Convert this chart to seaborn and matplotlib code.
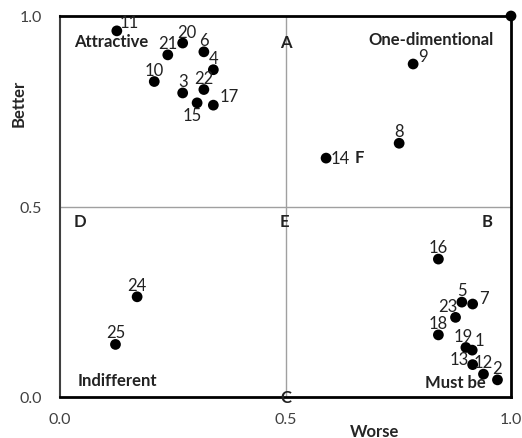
import matplotlib
matplotlib.use("Agg")
import matplotlib.pyplot as plt
import seaborn as sns
import pandas as pd

# ---- data ----
labels = ["11", "20", "21", "6", "4", "10", "3", "22", "15", "17",
          "9", "8", "14", "16", "5", "7", "23", "18", "19", "1",
          "13", "12", "2", "24", "25", ""]
worse = [0.126, 0.272, 0.239, 0.319, 0.340, 0.209, 0.272, 0.319, 0.304, 0.340,
         0.783, 0.752, 0.590, 0.839, 0.891, 0.915, 0.877, 0.839, 0.900, 0.914,
         0.915, 0.939, 0.970, 0.171, 0.123, 1.000]
better = [0.961, 0.929, 0.898, 0.906, 0.859, 0.828, 0.798, 0.807, 0.772, 0.766,
          0.874, 0.666, 0.627, 0.362, 0.249, 0.244, 0.209, 0.163, 0.130, 0.123,
          0.085, 0.060, 0.045, 0.263, 0.138, 1.000]

quadrant_names = ["Attractive", "One-dimentional", "Indifferent", "Must be"]
region_letters = ["A", "B", "C", "D", "E", "F"]
x_ticks = [0.0, 0.5, 1.0]
y_ticks = [0.0, 0.5, 1.0]

df = pd.DataFrame({"label": labels, "Worse": worse, "Better": better})

# label offsets in pixels (dx, dy), default: above the point
label_offsets = {
    "11": (12, 9), "17": (16, 9), "9": (10, 8), "7": (11, 6),
    "23": (-8, 11), "1": (7, 10), "13": (-13, 6), "15": (-5, -12),
    "19": (-3, 11), "20": (4, 11),
}

sns.set_style("white")
plt.rcParams["font.family"] = ["Lato", "DejaVu Sans"]

fig = plt.figure(figsize=(5.22, 4.39), dpi=100)
ax = fig.add_axes([60 / 522, 41 / 439, 451 / 522, 381 / 439])

sns.scatterplot(data=df, x="Worse", y="Better", color="black", s=60,
                edgecolor="none", ax=ax, zorder=3, clip_on=False)

ax.set_xlim(0, 1)
ax.set_ylim(0, 1)
ax.set_xticks(x_ticks)
ax.set_yticks(y_ticks)
ax.set_xticklabels([f"{v:.1f}" for v in x_ticks])
ax.set_yticklabels([f"{v:.1f}" for v in y_ticks])
ax.tick_params(axis="both", labelsize=11.5, colors="#595959", labelcolor="#404040",
               length=4, width=1, direction="out")
ax.tick_params(axis="x", pad=7)
ax.tick_params(axis="y", pad=9)

# quadrant lines
ax.axvline(0.5, color="#a0a0a0", lw=1, zorder=1)
ax.axhline(0.5, color="#a0a0a0", lw=1, zorder=1)

for side in ["left", "bottom", "top", "right"]:
    ax.spines[side].set_visible(True)
    ax.spines[side].set_color("black")
    ax.spines[side].set_linewidth(2)
ax.spines["left"].set_color("#404040")
ax.spines["left"].set_linewidth(1.5)

ax.set_xlabel("Worse", fontsize=12, fontweight="bold", va="center")
ax.set_ylabel("Better", fontsize=12, fontweight="bold", va="center")
ax.xaxis.set_label_coords((375 - 60) / 451, (398 - 432) / 381)
ax.yaxis.set_label_coords((19 - 60) / 451, (398 - 103) / 381)

# point labels
for lab, xv, yv in zip(labels, worse, better):
    if not lab:
        continue
    if lab == "14":
        ax.annotate("14", (xv, yv), xytext=(5, 0), textcoords="offset pixels",
                    ha="left", va="center", fontsize=12, color="#222222")
        continue
    dx, dy = label_offsets.get(lab, (0, 12))
    ax.annotate(lab, (xv, yv), xytext=(dx, dy), textcoords="offset pixels",
                ha="center", va="center", fontsize=12, color="#222222")

# quadrant names
bold = dict(fontsize=12, fontweight="bold", color="#222222")
ax.text(0.031, 0.934, quadrant_names[0], ha="left", va="center", **bold)
ax.text(0.822, 0.940, quadrant_names[1], ha="center", va="center", **bold)
ax.text(0.040, 0.045, quadrant_names[2], ha="left", va="center", **bold)
ax.text(0.876, 0.039, quadrant_names[3], ha="center", va="center", **bold)

# region letters
ax.text(0.501, 0.932, region_letters[0], ha="center", va="center", **bold)
ax.text(0.947, 0.462, region_letters[1], ha="center", va="center", **bold)
ax.text(0.500, 0.000, region_letters[2], ha="center", va="center", **bold)
ax.text(0.044, 0.462, region_letters[3], ha="center", va="center", **bold)
ax.text(0.497, 0.462, region_letters[4], ha="center", va="center", **bold)
ax.text(0.663, 0.630, region_letters[5], ha="center", va="center", **bold)

fig.savefig("out.png", dpi=100)
